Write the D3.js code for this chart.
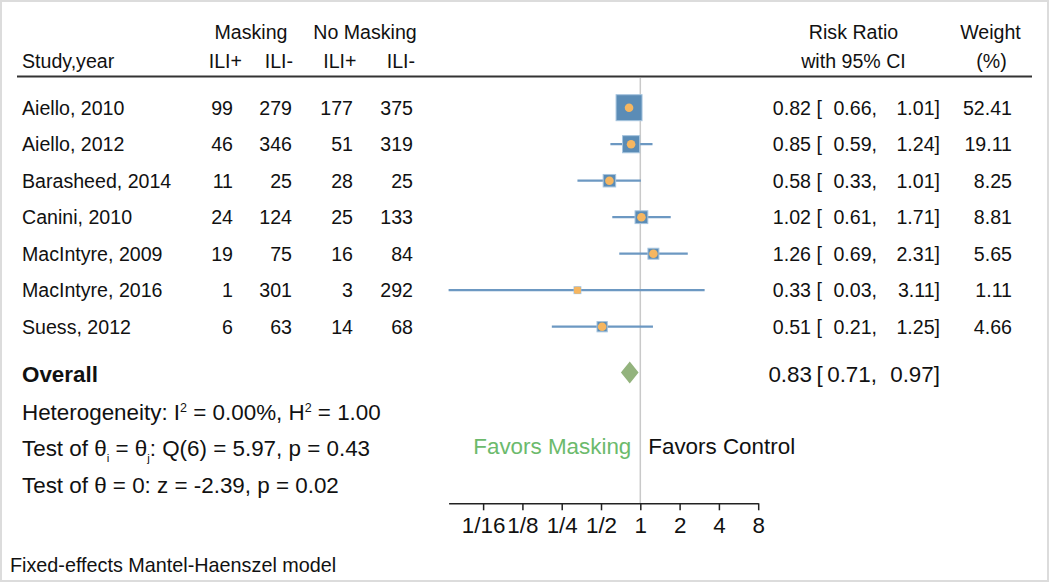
<!DOCTYPE html>
<html>
<head>
<meta charset="utf-8">
<script src="https://cdn.jsdelivr.net/npm/d3@7"></script>
<style>
  html, body { margin: 0; padding: 0; background: #fff; }
  svg text { font-family: "Liberation Sans", Arial, Helvetica, sans-serif; fill: #111; }
</style>
</head>
<body>
<div id="canvas"></div>
<script>
// data
const studies = ["Aiello, 2010", "Aiello, 2012", "Barasheed, 2014", "Canini, 2010",
                 "MacIntyre, 2009", "MacIntyre, 2016", "Suess, 2012"];
const maskPos = [99, 46, 11, 24, 19, 1, 6];
const maskNeg = [279, 346, 25, 124, 75, 301, 63];
const ctrlPos = [177, 51, 28, 25, 16, 3, 14];
const ctrlNeg = [375, 319, 25, 133, 84, 292, 68];
const rr = [0.82, 0.85, 0.58, 1.02, 1.26, 0.33, 0.51];
const ciLow = [0.66, 0.59, 0.33, 0.61, 0.69, 0.034, 0.21];
const ciHigh = [1.01, 1.24, 1.01, 1.71, 2.31, 3.11, 1.25];
const weights = [52.41, 19.11, 8.25, 8.81, 5.65, 1.11, 4.66];
const overall = { rr: 0.83, lo: 0.71, hi: 0.97 };
const tickValues = [1/16, 1/8, 1/4, 1/2, 1, 2, 4, 8];
const tickLabels = ["1/16", "1/8", "1/4", "1/2", "1", "2", "4", "8"];

const width = 1050;
const height = 583;
const fs = 19.6;   // table text
const fsBig = 22.4; // overall row, stats, axis

const blue = "#5b8cb6";
const lineBlue = "#6c98c2";
const orange = "#f6b660";
const green = "#93b37d";

const svg = d3.select("#canvas").append("svg")
    .attr("width", width)
    .attr("height", height);

// frame
svg.append("rect")
    .attr("x", 1).attr("y", 1)
    .attr("width", width - 3).attr("height", height - 3)
    .attr("fill", "none")
    .attr("stroke", "#dcdcdc")
    .attr("stroke-width", 2);

const x = d3.scaleLog().base(2)
    .domain([d3.min(ciLow), 8])
    .range([448.6, 758.2]);

const y = d3.scaleLinear()
    .domain([0, studies.length - 1])
    .range([107.7, 326.7]);

const size = d3.scaleSqrt().domain([0, 100]).range([3.6, 34.5]);

const yOverall = 372.5;
const axisY = 503.3;

// headers
const hdr = svg.append("g").style("font-size", fs + "px");
hdr.append("text").attr("x", 251).attr("y", 38.5).attr("text-anchor", "middle").text("Masking");
hdr.append("text").attr("x", 365).attr("y", 38.5).attr("text-anchor", "middle").text("No Masking");
hdr.append("text").attr("x", 853.5).attr("y", 38.5).attr("text-anchor", "middle").text("Risk Ratio");
hdr.append("text").attr("x", 990.5).attr("y", 38.5).attr("text-anchor", "middle").text("Weight");
hdr.append("text").attr("x", 22).attr("y", 67.5).text("Study,year");
[["ILI+", 242], ["ILI-", 293], ["ILI+", 356.5], ["ILI-", 415]].forEach(([t, xe]) => {
  hdr.append("text").attr("x", xe).attr("y", 67.5).attr("text-anchor", "end").text(t);
});
hdr.append("text").attr("x", 853.5).attr("y", 67.5).attr("text-anchor", "middle").text("with 95% CI");
hdr.append("text").attr("x", 991.5).attr("y", 67.5).attr("text-anchor", "middle").text("(%)");

svg.append("line")
    .attr("x1", 17).attr("x2", 1032)
    .attr("y1", 76.5).attr("y2", 76.5)
    .attr("stroke", "#333").attr("stroke-width", 2);

// reference line at 1
svg.append("line")
    .attr("x1", x(1)).attr("x2", x(1))
    .attr("y1", 78).attr("y2", axisY)
    .attr("stroke", "#c9c9c9").attr("stroke-width", 1.5);

// study rows
const rows = svg.selectAll("g.row").data(studies).enter()
    .append("g").attr("class", "row");

rows.append("line")
    .attr("x1", (d, i) => x(ciLow[i]))
    .attr("x2", (d, i) => x(ciHigh[i]))
    .attr("y1", (d, i) => y(i)).attr("y2", (d, i) => y(i))
    .attr("stroke", lineBlue).attr("stroke-width", 2.2);

const defs = svg.append("defs");
studies.forEach((d, i) => {
  const s = size(weights[i]);
  defs.append("clipPath").attr("id", "clip" + i)
    .append("rect")
    .attr("x", x(rr[i]) - s / 2).attr("y", y(i) - s / 2)
    .attr("width", s).attr("height", s);
});

rows.append("rect")
    .attr("x", (d, i) => x(rr[i]) - size(weights[i]) / 2)
    .attr("y", (d, i) => y(i) - size(weights[i]) / 2)
    .attr("width", (d, i) => size(weights[i]))
    .attr("height", (d, i) => size(weights[i]))
    .attr("fill", blue)
    .attr("stroke", "#a6c4de").attr("stroke-width", 1);

rows.append("circle")
    .attr("cx", (d, i) => x(rr[i]))
    .attr("cy", (d, i) => y(i))
    .attr("r", 4.3)
    .attr("clip-path", (d, i) => `url(#clip${i})`)
    .attr("fill", orange);

// row texts
const f2 = d3.format(".2f");
const base = (i) => y(i) + 7;
rows.style("font-size", fs + "px");
rows.append("text").attr("x", 22).attr("y", (d, i) => base(i)).text(d => d);
[[maskPos, 233], [maskNeg, 292], [ctrlPos, 353], [ctrlNeg, 413]].forEach(([arr, xe]) => {
  rows.append("text").attr("x", xe).attr("y", (d, i) => base(i))
    .attr("text-anchor", "end").text((d, i) => arr[i]);
});
rows.append("text").attr("x", 811).attr("y", (d, i) => base(i))
    .attr("text-anchor", "end").text((d, i) => f2(rr[i]));
rows.append("text").attr("x", 816.5).attr("y", (d, i) => base(i)).text("[");
rows.append("text").attr("x", 877).attr("y", (d, i) => base(i))
    .attr("text-anchor", "end").text((d, i) => f2(ciLow[i]) + ",");
rows.append("text").attr("x", 940).attr("y", (d, i) => base(i))
    .attr("text-anchor", "end").text((d, i) => f2(ciHigh[i]) + "]");
rows.append("text").attr("x", 1012).attr("y", (d, i) => base(i))
    .attr("text-anchor", "end").text((d, i) => f2(weights[i]));

// overall diamond
const dh = 11;
svg.append("path")
    .attr("d", `M${x(overall.lo)},${yOverall}L${x(overall.rr)},${yOverall - dh}` +
               `L${x(overall.hi)},${yOverall}L${x(overall.rr)},${yOverall + dh}Z`)
    .attr("fill", green);

const ov = svg.append("g").style("font-size", fsBig + "px");
ov.append("text").attr("x", 22).attr("y", 381.7).style("font-weight", "bold").text("Overall");
ov.append("text").attr("x", 812).attr("y", 381.7).attr("text-anchor", "end").text(f2(overall.rr));
ov.append("text").attr("x", 816.5).attr("y", 381.7).text("[");
ov.append("text").attr("x", 877).attr("y", 381.7).attr("text-anchor", "end").text(f2(overall.lo) + ",");
ov.append("text").attr("x", 940).attr("y", 381.7).attr("text-anchor", "end").text(f2(overall.hi) + "]");

// heterogeneity / tests
const st = svg.append("g").style("font-size", fsBig + "px");
const t1 = st.append("text").attr("x", 22).attr("y", 420);
t1.append("tspan").text("Heterogeneity: I");
t1.append("tspan").attr("dy", -8).style("font-size", "12.5px").text("2");
t1.append("tspan").attr("dy", 8).text(" = 0.00%, H");
t1.append("tspan").attr("dy", -8).style("font-size", "12.5px").text("2");
t1.append("tspan").attr("dy", 8).text(" = 1.00");

const t2 = st.append("text").attr("x", 22).attr("y", 456);
t2.append("tspan").text("Test of θ");
t2.append("tspan").attr("dy", 6).style("font-size", "11.5px").text("i");
t2.append("tspan").attr("dy", -6).text(" = θ");
t2.append("tspan").attr("dy", 6).style("font-size", "11.5px").text("j");
t2.append("tspan").attr("dy", -6).text(": Q(6) = 5.97, p = 0.43");

st.append("text").attr("x", 22).attr("y", 492.7).text("Test of θ = 0: z = -2.39, p = 0.02");

st.append("text").attr("x", x(1) - 9).attr("y", 454).attr("text-anchor", "end")
    .style("fill", "#6cba6c").text("Favors Masking");
st.append("text").attr("x", x(1) + 8).attr("y", 454).text("Favors Control");

svg.append("text").attr("x", 10).attr("y", 571.7)
    .style("font-size", "19.8px").text("Fixed-effects Mantel-Haenszel model");

// axis
const axis = svg.append("g")
    .attr("transform", `translate(0,${axisY})`)
    .call(d3.axisBottom(x)
      .tickValues(tickValues)
      .tickFormat((d, i) => tickLabels[i])
      .tickSizeOuter(0)
      .tickSizeInner(7)
      .tickPadding(6.4));
axis.selectAll("path, line").attr("stroke", "#222").attr("stroke-width", 1.5);
axis.selectAll("text").style("font-size", fsBig + "px").style("fill", "#111")
    .attr("font-family", null);
</script>
</body>
</html>
